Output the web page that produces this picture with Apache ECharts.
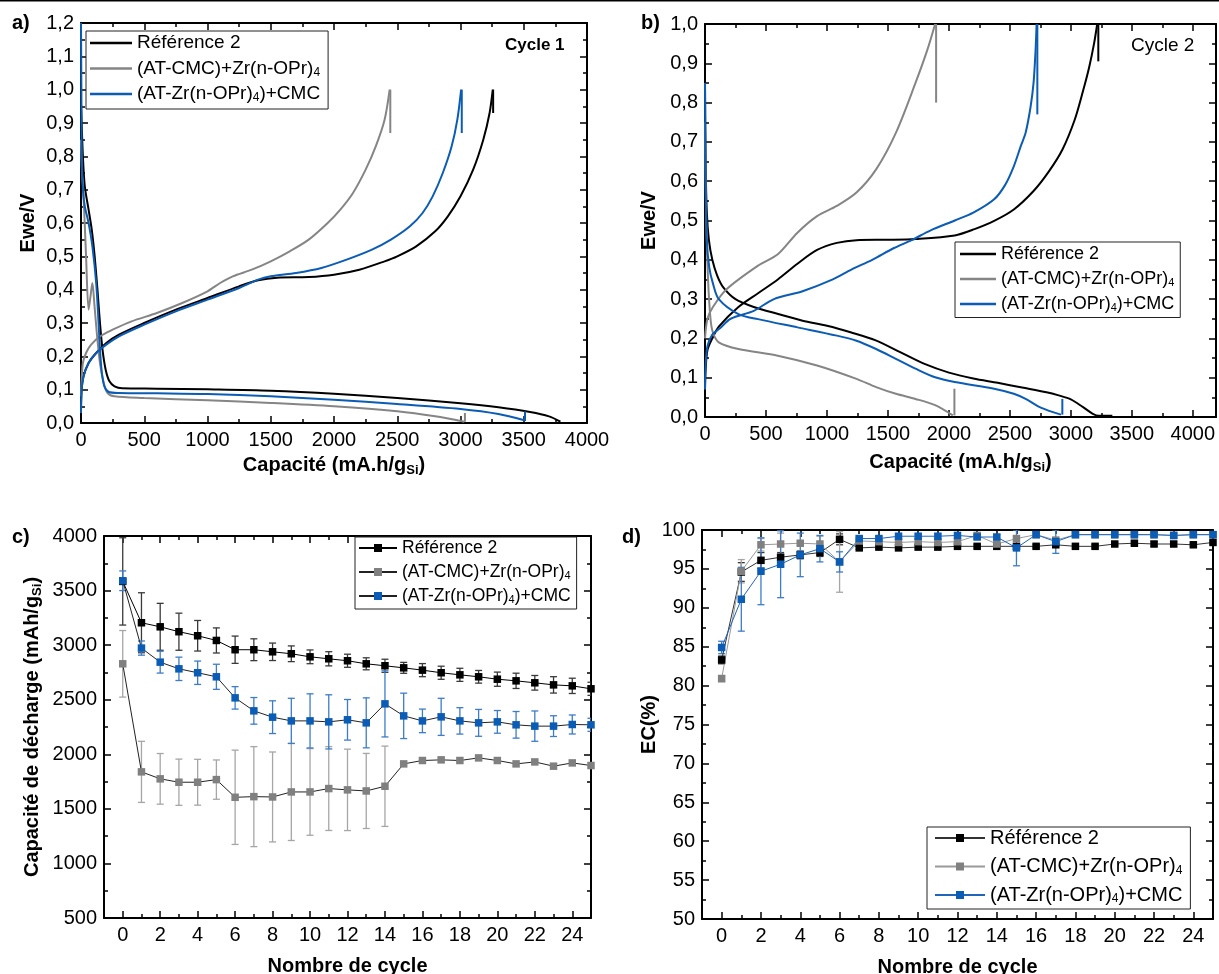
<!DOCTYPE html>
<html><head><meta charset="utf-8">
<script src="https://cdn.jsdelivr.net/npm/echarts@6/dist/echarts.min.js"></script>
<style>html,body{margin:0;padding:0;background:#fff}#c{width:1219px;height:974px}</style>
</head><body><div id="c"></div>
<script>
// ---------------- Series names ----------------
const seriesKeys = ['Référence 2', '(AT-CMC)+Zr(n-OPr)4', '(AT-Zr(n-OPr)4)+CMC'];
const seriesLabels = ['Référence 2', '(AT-CMC)+Zr(n-OPr){s|4}', '(AT-Zr(n-OPr){s|4})+CMC'];

// ---------------- Panel a (Cycle 1): [capacity mA.h/g, Ewe V] ----------------
const a_ref_dis = [[0,0.96],[5,0.9],[15,0.8],[30,0.71],[60,0.64],[85,0.58],[108,0.5],[130,0.4],[150,0.3],[170,0.22],[195,0.16],[225,0.125],[265,0.11],[325,0.104],[600,0.103],[1000,0.101],[1500,0.097],[2000,0.088],[2500,0.075],[3000,0.059],[3300,0.047],[3550,0.033],[3700,0.02],[3790,0.004]];
const a_ref_chg = [[0,0.04],[5,0.1],[20,0.14],[60,0.18],[120,0.21],[200,0.24],[300,0.265],[500,0.3],[750,0.34],[1000,0.375],[1250,0.41],[1400,0.428],[1550,0.436],[1800,0.438],[2000,0.445],[2200,0.46],[2400,0.485],[2500,0.5],[2650,0.53],[2800,0.575],[2900,0.62],[3000,0.68],[3100,0.76],[3180,0.85],[3230,0.93],[3255,1.0]];
const a_ref_stub = [[3258,1.0],[3258,0.93]];
const a_cmc_dis = [[0,0.85],[8,0.75],[18,0.7],[40,0.5],[60,0.34],[75,0.38],[90,0.42],[105,0.36],[125,0.27],[150,0.18],[180,0.12],[210,0.09],[265,0.08],[500,0.075],[1000,0.068],[1500,0.06],[2000,0.05],[2500,0.035],[2800,0.02],[3030,0.004]];
const a_cmc_stub1 = [[3035,0.004],[3035,0.03]];
const a_cmc_chg = [[0,0.08],[5,0.13],[15,0.18],[40,0.21],[80,0.235],[150,0.26],[250,0.28],[400,0.305],[600,0.33],[800,0.36],[1000,0.395],[1100,0.42],[1200,0.44],[1350,0.46],[1500,0.485],[1650,0.515],[1800,0.55],[1950,0.6],[2050,0.64],[2150,0.69],[2250,0.76],[2330,0.83],[2400,0.91],[2440,1.0]];
const a_cmc_stub2 = [[2445,1.0],[2445,0.87]];
const a_zr_dis = [[0,1.2],[3,1.0],[6,0.8],[15,0.7],[30,0.65],[60,0.6],[90,0.53],[120,0.42],[139,0.3],[150,0.22],[165,0.15],[185,0.11],[220,0.093],[300,0.09],[600,0.089],[1000,0.087],[1500,0.08],[2000,0.07],[2500,0.057],[3000,0.042],[3300,0.027],[3505,0.008]];
const a_zr_stub1 = [[3510,0.006],[3510,0.035]];
const a_zr_chg = [[0,0.03],[5,0.1],[20,0.14],[60,0.18],[120,0.21],[200,0.235],[300,0.26],[500,0.295],[750,0.335],[1000,0.37],[1250,0.405],[1400,0.43],[1500,0.44],[1700,0.45],[1900,0.465],[2100,0.49],[2300,0.52],[2450,0.55],[2600,0.59],[2700,0.63],[2780,0.68],[2860,0.75],[2930,0.83],[2975,0.91],[3005,1.0]];
const a_zr_stub2 = [[3010,1.0],[3010,0.87]];

// ---------------- Panel b (Cycle 2) ----------------
const b_ref_dis = [[0,0.85],[5,0.65],[15,0.52],[32,0.45],[60,0.4],[100,0.36],[150,0.33],[250,0.3],[400,0.28],[600,0.262],[800,0.245],[1000,0.232],[1200,0.215],[1400,0.195],[1600,0.165],[1800,0.135],[2000,0.113],[2200,0.098],[2400,0.087],[2600,0.075],[2800,0.063],[2900,0.055],[3000,0.045],[3100,0.025],[3180,0.008],[3230,0.003],[3340,0.003]];
const b_ref_chg = [[0,0.07],[5,0.12],[20,0.17],[60,0.2],[113,0.23],[274,0.28],[435,0.315],[597,0.35],[758,0.39],[919,0.425],[1081,0.443],[1242,0.45],[1500,0.451],[1726,0.453],[2048,0.462],[2210,0.478],[2371,0.499],[2532,0.528],[2694,0.575],[2820,0.625],[2930,0.68],[3030,0.755],[3100,0.83],[3150,0.89],[3190,0.95],[3216,1.0]];
const b_ref_stub = [[3225,1.0],[3225,0.905]];
const b_cmc_dis = [[0,0.75],[10,0.5],[25,0.35],[45,0.25],[65,0.215],[113,0.19],[274,0.173],[597,0.156],[919,0.131],[1242,0.097],[1403,0.076],[1565,0.059],[1726,0.046],[1887,0.03],[2032,0.004]];
const b_cmc_stub1 = [[2045,0.004],[2045,0.072]];
const b_cmc_chg = [[0,0.2],[20,0.25],[65,0.28],[177,0.325],[435,0.385],[597,0.414],[758,0.469],[919,0.511],[1081,0.537],[1242,0.571],[1403,0.63],[1565,0.723],[1726,0.85],[1823,0.934],[1887,1.0]];
const b_cmc_stub2 = [[1895,1.0],[1895,0.8]];
const b_zr_dis = [[0,0.85],[5,0.6],[15,0.45],[35,0.38],[65,0.34],[113,0.3],[274,0.262],[435,0.249],[758,0.228],[1081,0.207],[1242,0.194],[1403,0.173],[1565,0.148],[1726,0.123],[1887,0.101],[2048,0.089],[2371,0.072],[2532,0.059],[2629,0.046],[2758,0.023],[2919,0.006]];
const b_zr_stub1 = [[2930,0.006],[2930,0.046]];
const b_zr_chg = [[0,0.07],[5,0.13],[20,0.18],[60,0.21],[120,0.225],[210,0.25],[400,0.27],[565,0.3],[800,0.32],[1048,0.35],[1200,0.375],[1371,0.4],[1550,0.43],[1694,0.45],[1850,0.475],[2048,0.5],[2200,0.52],[2371,0.554],[2460,0.59],[2532,0.638],[2590,0.69],[2629,0.723],[2670,0.79],[2694,0.85],[2710,0.93],[2719,1.0]];
const b_zr_stub2 = [[2725,1.0],[2725,0.77]];

// ---------------- Panel c: discharge capacity per cycle ----------------
const cycles = [0,1,2,3,4,5,6,7,8,9,10,11,12,13,14,15,16,17,18,19,20,21,22,23,24,25];
const c_ref = [3584,3205,3168,3123,3086,3043,2958,2958,2939,2921,2893,2875,2857,2829,2811,2792,2771,2747,2728,2710,2688,2673,2655,2636,2627,2600];
const c_ref_err = [400,275,215,170,140,115,125,100,80,72,63,65,60,55,60,50,60,60,60,58,65,70,67,75,70,60];
const c_cmc = [2829,1839,1775,1744,1744,1768,1606,1612,1609,1655,1655,1686,1674,1664,1707,1912,1943,1949,1943,1967,1943,1912,1930,1891,1921,1897];
const c_cmc_err = [305,280,232,212,210,180,432,458,412,445,397,384,373,344,368,0,0,0,0,0,0,0,0,0,0,0];
const c_zr = [3590,2973,2844,2783,2747,2710,2517,2398,2340,2306,2306,2297,2316,2288,2462,2352,2306,2343,2306,2288,2297,2270,2258,2258,2273,2270];
const c_zr_err = [90,65,100,107,107,115,103,122,150,207,248,248,186,229,303,208,108,170,121,123,104,122,139,95,87,60];

// ---------------- Panel d: coulombic efficiency (%) ----------------
const d_ref = [83.3,94.6,96.1,96.5,96.8,97.1,98.8,97.7,97.8,97.7,97.8,97.8,97.9,97.9,97.9,97.9,97.9,98.1,97.9,97.9,98.2,98.3,98.2,98.2,98.1,98.4];
const d_ref_err = [0.5,1.2,1.0,0.6,0.5,0.5,0.7,0.2,0.2,0.2,0.2,0.2,0.2,0.2,0.2,0.2,0.2,0.2,0.2,0.2,0.2,0.2,0.3,0.3,0.2,0.2];
const d_cmc = [80.9,94.7,98.1,98.2,98.3,98.2,95.9,98.6,98.5,98.4,98.5,98.4,98.5,99.3,98.2,98.9,99.4,98.7,99.4,99.4,99.4,99.4,99.4,99.3,99.4,99.4];
const d_cmc_err = [0.4,1.5,0.8,1.4,0.3,1.0,3.9,0.3,0.3,0.3,0.3,0.3,0.3,0.3,0.3,0.3,0.2,0.2,0.2,0.2,0.2,0.2,0.2,0.2,0.2,0.2];
const d_zr = [84.9,91.1,94.7,95.6,96.8,97.6,95.9,98.9,98.9,99.2,99.2,99.2,99.3,99.1,99.1,97.7,99.4,98.5,99.4,99.4,99.4,99.4,99.4,99.3,99.4,99.4];
const d_zr_err = [0.8,4.1,4.3,4.3,2.8,1.7,1.3,0.3,0.3,0.3,0.3,0.3,0.3,0.3,0.3,2.3,0.3,1.5,0.2,0.2,0.2,0.2,0.2,0.2,0.2,0.2];

// ---------------- Tick values ----------------
const ab_xTicks = [0,500,1000,1500,2000,2500,3000,3500,4000];
const ab_xMinor = [250,750,1250,1750,2250,2750,3250,3750];
const a_yTicks = [0,0.1,0.2,0.3,0.4,0.5,0.6,0.7,0.8,0.9,1.0,1.1,1.2];
const a_yMinor = [0.05,0.15,0.25,0.35,0.45,0.55,0.65,0.75,0.85,0.95,1.05,1.15];
const b_yTicks = [0,0.1,0.2,0.3,0.4,0.5,0.6,0.7,0.8,0.9,1.0];
const b_yMinor = [0.05,0.15,0.25,0.35,0.45,0.55,0.65,0.75,0.85,0.95];
const cd_xTicks = [0,2,4,6,8,10,12,14,16,18,20,22,24];
const cd_xMinor = [1,3,5,7,9,11,13,15,17,19,21,23];
const c_yTicks = [500,1000,1500,2000,2500,3000,3500,4000];
const c_yMinor = [750,1250,1750,2250,2750,3250,3750];
const d_yTicks = [50,55,60,65,70,75,80,85,90,95,100];
const d_yMinor = [52.5,57.5,62.5,67.5,72.5,77.5,82.5,87.5,92.5,97.5];

// ---------------- Styling ----------------
const FONT = '"Liberation Sans", Arial, Helvetica, sans-serif';
const BLUE = '#0a5cb4';
const GREY = '#858585';
const BLACK = '#000000';
const TICK_FS = 20;
const NAME_FS = 20;

const xAxis = [], yAxis = [];
function commaFmt(v){ return Number(v).toFixed(1).replace('.', ','); }
function intFmt(v){ return String(Math.round(v)); }
function nameStyle(){
  return {fontSize: NAME_FS, fontWeight: 'bold', fontFamily: FONT, color: '#000', lineHeight: 24,
    rich: {s: {fontSize: 13, fontWeight: 'bold', fontFamily: FONT, color: '#000', lineHeight: 12, verticalAlign: 'bottom'}}};
}
function axisSet(list, grid, isX, min, max, majors, minors, fmt, name, nameGap){
  const pos = isX ? 'bottom' : 'left', opp = isX ? 'top' : 'right';
  const common = {type: 'value', gridIndex: grid, min: min, max: max, splitLine: {show: false}, splitArea: {show: false}, axisPointer: {show: false}, silent: true};
  const line = {show: true, onZero: false, lineStyle: {color: '#000', width: 2}};
  const noLine = {show: false, onZero: false};
  const tick = (vals, len) => ({show: true, inside: true, length: len, customValues: vals, lineStyle: {color: '#000', width: 1.5}});
  const idx = list.length;
  list.push(Object.assign({}, common, {position: pos, axisLine: line, axisTick: tick(majors, 7),
    axisLabel: {show: true, customValues: majors, formatter: fmt, color: '#000', fontSize: TICK_FS, fontFamily: FONT, margin: 7},
    name: name, nameLocation: 'middle', nameGap: nameGap, nameMoveOverlap: false, nameTextStyle: nameStyle()}));
  list.push(Object.assign({}, common, {position: pos, axisLine: noLine, axisTick: tick(minors, 4), axisLabel: {show: false}}));
  list.push(Object.assign({}, common, {position: opp, axisLine: line, axisTick: tick(majors, 7), axisLabel: {show: false}}));
  list.push(Object.assign({}, common, {position: opp, axisLine: noLine, axisTick: tick(minors, 4), axisLabel: {show: false}}));
  return idx;
}

const grids = [
  {left: 81, top: 23, width: 506, height: 400},
  {left: 705, top: 24, width: 511, height: 393},
  {left: 104, top: 536, width: 487, height: 382},
  {left: 702, top: 530, width: 511, height: 389}
].map(g => Object.assign(g, {containLabel: false, outerBoundsMode: 'none', show: false}));

const ax = [], ay = [];
ax[0] = axisSet(xAxis, 0, true, 0, 4000, ab_xTicks, ab_xMinor, intFmt, 'Capacité (mA.h/g{s|Si})', 30);
ay[0] = axisSet(yAxis, 0, false, 0, 1.2, a_yTicks, a_yMinor, commaFmt, 'Ewe/V', 41);
ax[1] = axisSet(xAxis, 1, true, 0, 4190, ab_xTicks, ab_xMinor, intFmt, 'Capacité (mA.h/g{s|Si})', 33);
ay[1] = axisSet(yAxis, 1, false, 0, 1.0, b_yTicks, b_yMinor, commaFmt, 'Ewe/V', 44);
ax[2] = axisSet(xAxis, 2, true, -1, 25, cd_xTicks, cd_xMinor, intFmt, 'Nombre de cycle', 36);
ay[2] = axisSet(yAxis, 2, false, 500, 4000, c_yTicks, c_yMinor, intFmt, 'Capacité de décharge (mAh/g{s|Si})', 60);
ax[3] = axisSet(xAxis, 3, true, -1, 25, cd_xTicks, cd_xMinor, intFmt, 'Nombre de cycle', 36);
ay[3] = axisSet(yAxis, 3, false, 50, 100, d_yTicks, d_yMinor, intFmt, 'EC(%)', 41);

function nm(i, p){ return seriesKeys[i] + '\u200b'.repeat(p); }
function legendFmt(name){ const k = name.replace(/\u200b/g, ''); const i = seriesKeys.indexOf(k); return i >= 0 ? seriesLabels[i] : k; }

const series = [];
function curve(name, data, color, p, smooth){
  series.push({type: 'line', name: name, data: data, xAxisIndex: ax[p], yAxisIndex: ay[p], symbol: 'none', showSymbol: false,
    smooth: smooth ? 0.3 : false, clip: true, silent: true, animation: false,
    lineStyle: {color: color, width: 2}, itemStyle: {color: color}, z: 3});
}
// panel a
curve(nm(0,0), a_ref_dis, BLACK, 0, true); curve(nm(0,0), a_ref_chg, BLACK, 0, true); curve(nm(0,0), a_ref_stub, BLACK, 0, false);
curve(nm(1,0), a_cmc_dis, GREY, 0, true); curve(nm(1,0), a_cmc_stub1, GREY, 0, false); curve(nm(1,0), a_cmc_chg, GREY, 0, true); curve(nm(1,0), a_cmc_stub2, GREY, 0, false);
curve(nm(2,0), a_zr_dis, BLUE, 0, true); curve(nm(2,0), a_zr_stub1, BLUE, 0, false); curve(nm(2,0), a_zr_chg, BLUE, 0, true); curve(nm(2,0), a_zr_stub2, BLUE, 0, false);
// panel b
curve(nm(0,1), b_ref_dis, BLACK, 1, true); curve(nm(0,1), b_ref_chg, BLACK, 1, true); curve(nm(0,1), b_ref_stub, BLACK, 1, false);
curve(nm(1,1), b_cmc_dis, GREY, 1, true); curve(nm(1,1), b_cmc_stub1, GREY, 1, false); curve(nm(1,1), b_cmc_chg, GREY, 1, true); curve(nm(1,1), b_cmc_stub2, GREY, 1, false);
curve(nm(2,1), b_zr_dis, BLUE, 1, true); curve(nm(2,1), b_zr_stub1, BLUE, 1, false); curve(nm(2,1), b_zr_chg, BLUE, 1, true); curve(nm(2,1), b_zr_stub2, BLUE, 1, false);

function errSeries(vals, errs, color, p, capW){
  series.push({type: 'custom', name: 'err' + series.length, xAxisIndex: ax[p], yAxisIndex: ay[p], clip: true, silent: true, animation: false, z: 2,
    data: cycles.map((x, i) => [x, vals[i], errs[i]]),
    renderItem: function(params, api){
      const x = api.value(0), y = api.value(1), e = api.value(2);
      if (!e) return {type: 'group', children: []};
      const t = api.coord([x, y + e]), b = api.coord([x, y - e]);
      const st = {stroke: color, lineWidth: 1.3, fill: null};
      return {type: 'group', children: [
        {type: 'line', shape: {x1: t[0], y1: t[1], x2: b[0], y2: b[1]}, style: st},
        {type: 'line', shape: {x1: t[0] - capW, y1: t[1], x2: t[0] + capW, y2: t[1]}, style: st},
        {type: 'line', shape: {x1: b[0] - capW, y1: b[1], x2: b[0] + capW, y2: b[1]}, style: st}
      ]};
    }});
}
function pts(name, vals, lineColor, markColor, p){
  series.push({type: 'line', name: name, data: cycles.map((x, i) => [x, vals[i]]), xAxisIndex: ax[p], yAxisIndex: ay[p],
    symbol: 'rect', symbolSize: 7.5, showSymbol: true, clip: true, silent: true, animation: false,
    lineStyle: {color: lineColor, width: 1}, itemStyle: {color: markColor}, z: 3});
}
// panel c
errSeries(c_ref, c_ref_err, '#3a3a3a', 2, 3.5);
errSeries(c_cmc, c_cmc_err, '#a6a6a6', 2, 3.5);
errSeries(c_zr, c_zr_err, '#3d7cc9', 2, 3.5);
pts(nm(0,2), c_ref, BLACK, BLACK, 2);
pts(nm(1,2), c_cmc, '#222', '#808080', 2);
pts(nm(2,2), c_zr, '#222', BLUE, 2);
// panel d
errSeries(d_ref, d_ref_err, '#3a3a3a', 3, 3.5);
errSeries(d_cmc, d_cmc_err, '#a6a6a6', 3, 3.5);
errSeries(d_zr, d_zr_err, '#3d7cc9', 3, 3.5);
pts(nm(0,3), d_ref, '#333', BLACK, 3);
pts(nm(1,3), d_cmc, '#9a9a9a', '#808080', 3);
pts(nm(2,3), d_zr, '#1f66bb', BLUE, 3);

function legendCfg(p, left, top, fs, lh, gap, iw, ih, pad, icon){
  const cfg = {show: true, orient: 'vertical', left: left, top: top, itemWidth: iw, itemHeight: ih, itemGap: gap, padding: pad,
    borderColor: '#222', borderWidth: 1, backgroundColor: '#fff', selectedMode: false, formatter: legendFmt,
    data: [nm(0,p), nm(1,p), nm(2,p)],
    textStyle: {fontSize: fs, fontFamily: FONT, color: '#000', lineHeight: lh,
      rich: {s: {fontSize: Math.round(fs*0.62), fontFamily: FONT, color: '#000', lineHeight: 12, verticalAlign: 'bottom'}}}};
  if (icon) cfg.icon = icon;
  return cfg;
}

const option = {
  animation: false,
  backgroundColor: '#fff',
  grid: grids,
  xAxis: xAxis,
  yAxis: yAxis,
  legend: [
    legendCfg(0, 86, 31, 19, 20, 5.5, 42, 2.5, [2, 8, 5, 4], 'rect'),
    legendCfg(1, 955, 242, 18, 19, 6, 36, 2.5, [2.5, 6, 4, 5], 'rect'),
    legendCfg(2, 355, 537, 17.5, 18, 6, 38, 10, [2, 6, 4, 3]),
    legendCfg(3, 927, 827, 20, 20, 8.5, 50, 10, [1, 8, 4, 7])
  ],
  series: series,
  graphic: [
    {type: 'rect', shape: {x: 0, y: 0, width: 1219, height: 1.5}, style: {fill: '#000'}},
    {type: 'text', x: 12, y: 13, style: {text: 'a)', font: 'bold 20px ' + FONT, fill: '#000'}},
    {type: 'text', x: 641, y: 13, style: {text: 'b)', font: 'bold 20px ' + FONT, fill: '#000'}},
    {type: 'text', x: 12, y: 527, style: {text: 'c)', font: 'bold 20px ' + FONT, fill: '#000'}},
    {type: 'text', x: 622, y: 527, style: {text: 'd)', font: 'bold 20px ' + FONT, fill: '#000'}},
    {type: 'text', x: 505, y: 37, style: {text: 'Cycle 1', font: 'bold 17px ' + FONT, fill: '#000'}},
    {type: 'text', x: 1131, y: 36, style: {text: 'Cycle 2', font: '19px ' + FONT, fill: '#000'}}
  ]
};
const chart = echarts.init(document.getElementById('c'), null, {renderer: 'canvas', width: 1219, height: 974});
chart.setOption(option);
</script></body></html>
